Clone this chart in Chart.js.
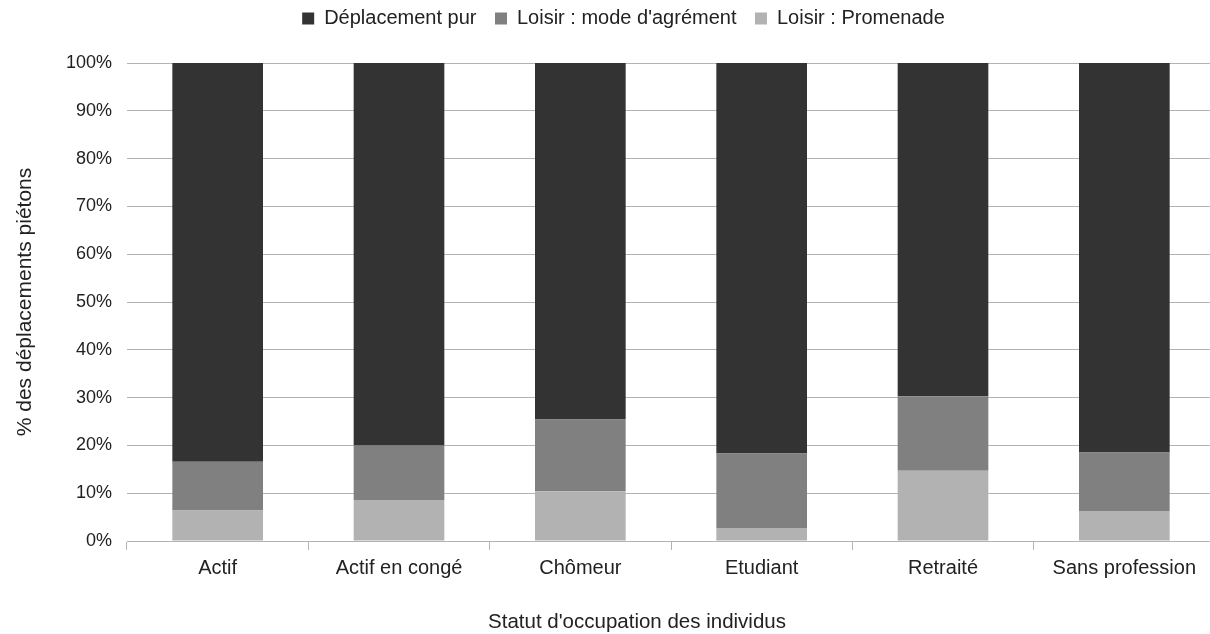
<!DOCTYPE html>
<html>
<head>
<meta charset="utf-8">
<script src="https://cdn.jsdelivr.net/npm/chart.js@4.4.1/dist/chart.umd.min.js"></script>
<style>
  html, body { margin: 0; padding: 0; background: #fff; overflow: hidden; }
  #wrap { width: 1210px; height: 634px; overflow: hidden; }
  #wrap canvas { display: block; }
</style>
</head>
<body>
<div id="wrap"><canvas id="statut-chart" width="1216" height="634"></canvas></div>
<script>
const categories = ['Actif', 'Actif en congé', 'Chômeur', 'Etudiant', 'Retraité', 'Sans profession'];
// parts in % of walking trips, bottom to top of each bar
const promenade = [6.4, 8.6, 10.4, 2.7, 14.7, 6.3];
const agrement = [10.2, 11.4, 15.0, 15.6, 15.6, 12.2];
const deplacementPur = [83.4, 80.0, 74.6, 81.7, 69.7, 81.5];

const textColor = '#222222';
const lineColor = '#b3b3b3';
const fontFamily = '"Liberation Sans", Arial, sans-serif';
const xTitleText = "Statut d'occupation des individus";

// fixed legend band above the plot, nudged a bit to the right
const legendSpace = {
    id: 'legendSpace',
    beforeInit(chart) {
        const fit = chart.legend.fit;
        chart.legend.fit = function () {
            fit.call(this);
            this.height = 73;
        };
    },
    afterLayout(chart) {
        chart.legend.left += 16;
        chart.legend.right += 16;
    }
};

// x axis title, centred under the whole figure rather than the plot
const xTitle = {
    id: 'xTitle',
    afterDraw(chart) {
        const ctx = chart.ctx;
        ctx.save();
        ctx.font = '20.5px ' + fontFamily;
        ctx.fillStyle = textColor;
        ctx.textAlign = 'center';
        ctx.textBaseline = 'middle';
        ctx.fillText(xTitleText, 637, 622);
        ctx.restore();
    }
};

const statutChart = new Chart(document.getElementById('statut-chart'), {
    type: 'bar',
    data: {
        labels: categories,
        datasets: [
            {
                label: 'Loisir : Promenade',
                data: promenade,
                backgroundColor: '#b2b2b2',
                borderWidth: 0,
            },
            {
                label: "Loisir : mode d'agrément",
                data: agrement,
                backgroundColor: '#808080',
                borderWidth: 0,
            },
            {
                label: 'Déplacement pur',
                data: deplacementPur,
                backgroundColor: '#333333',
                borderWidth: 0,
            },
        ]
    },
    options: {
        responsive: false,
        animation: false,
        layout: {
            padding: {top: -10, right: 1, bottom: 0, left: 0}
        },
        datasets: {
            bar: {
                categoryPercentage: 1,
                barPercentage: 0.5,
            }
        },
        plugins: {
            legend: {
                position: 'top',
                reverse: true,
                labels: {
                    color: textColor,
                    font: {family: fontFamily, size: 20},
                    boxWidth: 12,
                    boxHeight: 12,
                    padding: 18.5,
                }
            },
            tooltip: {enabled: false},
        },
        scales: {
            x: {
                stacked: true,
                afterFit(scale) { scale.height = 93; },
                grid: {
                    drawOnChartArea: false,
                    color: lineColor,
                    tickLength: 9,
                },
                border: {color: lineColor},
                ticks: {
                    color: textColor,
                    font: {family: fontFamily, size: 20},
                    padding: 6,
                    maxRotation: 0,
                },
                title: {display: false}
            },
            y: {
                stacked: true,
                min: 0,
                max: 100,
                afterFit(scale) { scale.width = 127; },
                grid: {
                    color: lineColor,
                    drawTicks: false,
                },
                border: {display: false},
                ticks: {
                    stepSize: 10,
                    color: textColor,
                    font: {family: fontFamily, size: 18},
                    padding: 15,
                    callback: (v) => v + '%',
                },
                title: {
                    display: true,
                    text: '% des déplacements piétons',
                    color: textColor,
                    font: {family: fontFamily, size: 21},
                    padding: {top: 13, bottom: 0},
                }
            }
        }
    },
    plugins: [legendSpace, xTitle]
});
</script>
</body>
</html>
